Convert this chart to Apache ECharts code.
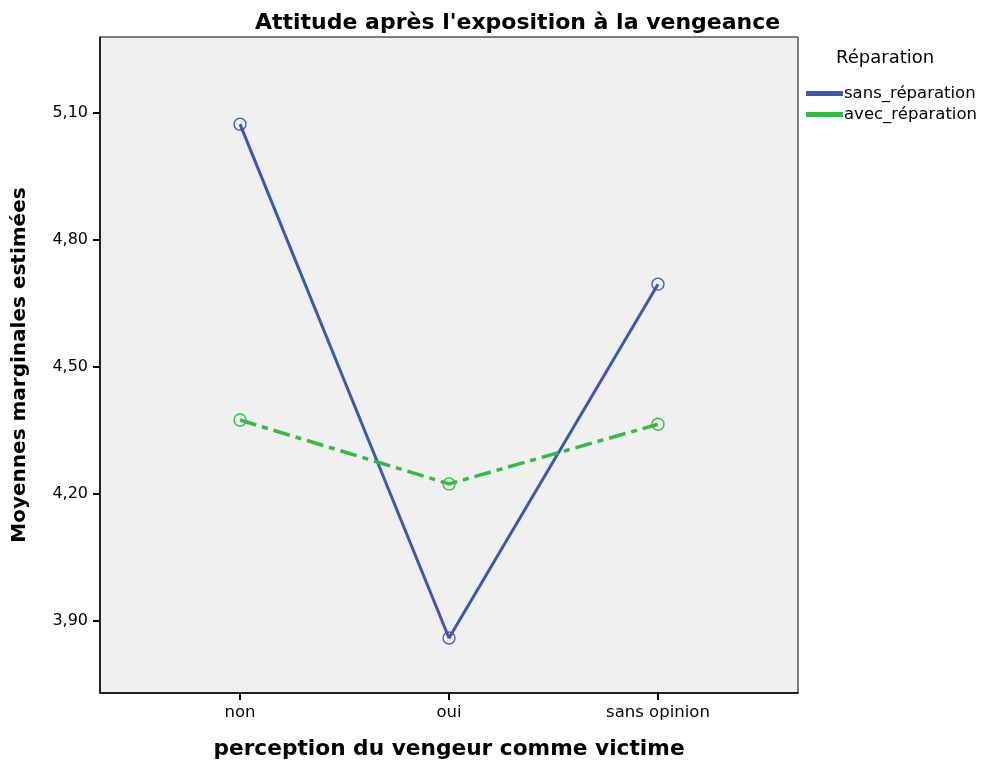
<!DOCTYPE html>
<html>
<head>
<meta charset="utf-8">
<script src="https://cdn.jsdelivr.net/npm/echarts@6/dist/echarts.min.js"></script>
<style>
  html, body { margin: 0; padding: 0; background: #fff; }
  #chart { width: 982px; height: 767px; }
</style>
</head>
<body>
<div id="chart"></div>
<script>
// categories on the x axis
const categories = ['non', 'oui', 'sans opinion'];
// estimated marginal means
const sansReparation = [5.074, 3.860, 4.696];
const avecReparation = [4.375, 4.224, 4.365];
const yTicks = [3.90, 4.20, 4.50, 4.80, 5.10];

const chart = echarts.init(document.getElementById('chart'));

const toPoints = (vals) => vals.map((v, i) => [i, v]);
const font = 'DejaVu Sans, Arial, sans-serif';

chart.setOption({
  animation: false,
  backgroundColor: '#fff',
  title: {
    text: "Attitude après l'exposition à la vengeance",
    left: 250,
    top: 7,
    textStyle: { fontFamily: font, fontSize: 22, fontWeight: 'bold', color: '#000' }
  },
  legend: {
    orient: 'vertical',
    left: 801,
    top: 80,
    itemWidth: 35,
    itemHeight: 3,
    itemGap: 4,
    icon: 'rect',
    textStyle: { fontFamily: font, fontSize: 16.5, color: '#000', padding: [0, 0, 0, -3] },
    data: [
      { name: 'sans_réparation', itemStyle: { color: '#3f57b0' } },
      { name: 'avec_réparation', itemStyle: { color: '#33bb44' } }
    ]
  },
  graphic: [
    {
      type: 'text',
      left: 836, top: 49,
      style: { text: 'Réparation', fontFamily: font, fontSize: 18, fill: '#000' }
    }
  ],
  grid: {
    left: 100, right: 184, top: 37, bottom: 74,
    outerBoundsMode: 'none',
    containLabel: false,
    show: true,
    backgroundColor: '#f0f0f0',
    borderColor: '#000',
    borderWidth: 1
  },
  xAxis: {
    type: 'value',
    min: -0.67,
    max: 2.67,
    name: 'perception du vengeur comme victime',
    nameLocation: 'middle',
    nameGap: 45,
    nameTextStyle: { fontFamily: font, fontSize: 21.7, fontWeight: 'bold', color: '#000' },
    splitLine: { show: false },
    axisLine: { show: true, onZero: false, lineStyle: { color: '#000', width: 1.5 } },
    axisTick: { show: true, length: 7, customValues: [0, 1, 2], lineStyle: { color: '#000', width: 2 } },
    axisLabel: {
      customValues: [0, 1, 2],
      formatter: (v) => categories[Math.round(v)],
      fontFamily: font, fontSize: 16.5, color: '#000', margin: 11
    }
  },
  yAxis: {
    type: 'value',
    min: 3.73,
    max: 5.28,
    name: 'Moyennes marginales estimées',
    nameLocation: 'middle',
    nameGap: 70,
    nameTextStyle: { fontFamily: font, fontSize: 20, fontWeight: 'bold', color: '#000' },
    splitLine: { show: false },
    axisLine: { show: true, onZero: false, lineStyle: { color: '#000', width: 1.5 } },
    axisTick: { show: true, length: 7, customValues: yTicks, lineStyle: { color: '#000', width: 2 } },
    axisLabel: {
      customValues: yTicks,
      formatter: (v) => v.toFixed(2).replace('.', ','),
      fontFamily: font, fontSize: 16, color: '#000', margin: 12
    }
  },
  series: [
    {
      name: 'sans_réparation',
      type: 'line',
      data: toPoints(sansReparation),
      symbol: 'circle',
      symbolSize: 12,
      color: '#3f57b0',
      itemStyle: { color: 'transparent', borderColor: '#3f57b0', borderWidth: 1.3 },
      lineStyle: { color: '#3f57b0', width: 3 }
    },
    {
      name: 'avec_réparation',
      type: 'line',
      data: toPoints(avecReparation),
      symbol: 'circle',
      symbolSize: 12,
      color: '#33bb44',
      itemStyle: { color: 'transparent', borderColor: '#33bb44', borderWidth: 1.3 },
      lineStyle: { color: '#33bb44', width: 3.5, type: [17, 6, 6, 6] }
    }
  ]
});
</script>
</body>
</html>
